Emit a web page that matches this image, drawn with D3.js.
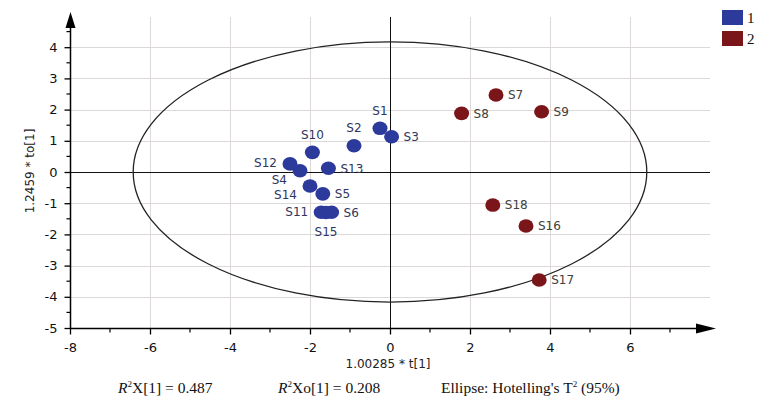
<!DOCTYPE html>
<html>
<head>
<meta charset="utf-8">
<script src="https://cdn.jsdelivr.net/npm/d3@7"></script>
<style>
  html, body { margin: 0; padding: 0; background: #fff; }
  svg { display: block; }
</style>
</head>
<body>
<svg id="chart" width="758" height="401"></svg>
<script>
// ---- data ----
const sampleNames = ["S1","S2","S3","S4","S5","S6","S7","S8","S9","S10","S11","S12","S13","S14","S15","S16","S17","S18"];
const tValues  = [-0.25, -0.90, 0.04, -2.25, -1.68, -1.46, 2.65, 1.79, 3.79, -1.94, -1.72, -2.50, -1.54, -2.00, -1.60, 3.40, 3.73, 2.57];
const toValues = [ 1.40,  0.84, 1.13,  0.04, -0.70, -1.29, 2.47, 1.88, 1.93,  0.63, -1.29,  0.26,  0.12, -0.45, -1.30, -1.73, -3.46, -1.06];
const groups   = [1,1,1,1,1,1,2,2,2,1,1,1,1,1,1,2,2,2];
const labelSide = ["above","above","right","leftlow","right","right","right","right","right","above","left","left","right","leftlow","below","right","right","right"];
const xTicks = [-8,-6,-4,-2,0,2,4,6];
const xMinorTicks = [-7,-5,-3,-1,1,3,5,7];
const yTicks = [-5,-4,-3,-2,-1,0,1,2,3,4];
const yMinorTicks = [-4.5,-3.5,-2.5,-1.5,-0.5,0.5,1.5,2.5,3.5,4.5];
const ellipseRadii = [6.42, 4.17]; // Hotelling's T2 95% semi-axes (t, to)
const legendGroups = ["1","2"];
const xTitle = "1.00285 * t[1]";
const yTitle = "1.2459 * to[1]";

// ---- chart ----
const svg = d3.select("#chart");
const x = d3.scaleLinear().domain([-8, 8]).range([70, 710]);
const y = d3.scaleLinear().domain([-5, 5]).range([328, 16]);
const fill = d3.scaleOrdinal().domain([1,2]).range(["#2c3a9c", "#7a1519"]);
const labelColor = d3.scaleOrdinal().domain([1,2]).range(["#2f355e", "#404040"]);

const plotTop = 17, plotRight = 710;

// grid
const grid = svg.append("g").attr("stroke", "#ddd8d8").attr("stroke-width", 1);
grid.selectAll("line.v").data(xTicks.filter(d => d !== -8 && d !== 0)).join("line")
  .attr("x1", d => x(d) + 0.5).attr("x2", d => x(d) + 0.5)
  .attr("y1", plotTop).attr("y2", y(-5));
grid.selectAll("line.h").data(yTicks.filter(d => d !== -5 && d !== 0)).join("line")
  .attr("x1", x(-8)).attr("x2", plotRight)
  .attr("y1", d => Math.round(y(d)) + 0.5).attr("y2", d => Math.round(y(d)) + 0.5);

// zero lines
svg.append("line").attr("x1", x(-8)).attr("x2", plotRight)
  .attr("y1", Math.round(y(0)) + 0.5).attr("y2", Math.round(y(0)) + 0.5)
  .attr("stroke", "#111").attr("stroke-width", 1);
svg.append("line").attr("x1", x(0) + 0.5).attr("x2", x(0) + 0.5)
  .attr("y1", plotTop).attr("y2", y(-5))
  .attr("stroke", "#111").attr("stroke-width", 1);

// ellipse
svg.append("ellipse")
  .attr("cx", x(0)).attr("cy", y(0))
  .attr("rx", x(ellipseRadii[0]) - x(0))
  .attr("ry", y(0) - y(ellipseRadii[1]))
  .attr("fill", "none").attr("stroke", "#222").attr("stroke-width", 1.3);

// x axis
const xAxisG = svg.append("g").attr("transform", `translate(0,${Math.round(y(-5)) + 0.5})`);
xAxisG.call(d3.axisBottom(x).tickValues(xTicks).tickSize(6).tickFormat(d => d < 0 ? "-" + Math.abs(d) : d))
  .call(g => g.select(".domain").remove());
xAxisG.append("line").attr("x1", x(-8)).attr("x2", 706).attr("stroke", "#000").attr("stroke-width", 1.5);
xAxisG.append("path").attr("d", "M696,-5 L716,0 L696,5 Z").attr("fill", "#000");
xAxisG.selectAll(".tick line").attr("stroke", "#000").attr("stroke-width", 1.3);
xAxisG.selectAll(".tick text").attr("font-family", "DejaVu Sans, sans-serif").attr("font-size", 13)
  .attr("fill", "#111").attr("dy", "0.71em").attr("y", 14);
xAxisG.selectAll("line.minor").data(xMinorTicks).join("line").attr("class", "minor")
  .attr("x1", d => x(d)).attr("x2", d => x(d)).attr("y1", 0).attr("y2", 4)
  .attr("stroke", "#000").attr("stroke-width", 1.2);

// y axis
const yAxisG = svg.append("g").attr("transform", `translate(${x(-8) + 0.5},0)`);
yAxisG.call(d3.axisLeft(y).tickValues(yTicks).tickSize(6).tickFormat(d => d < 0 ? "-" + Math.abs(d) : d))
  .call(g => g.select(".domain").remove());
yAxisG.append("line").attr("y1", y(-5)).attr("y2", 26).attr("stroke", "#000").attr("stroke-width", 1.5);
yAxisG.append("path").attr("d", "M-5,28 L0,12 L5,28 Z").attr("fill", "#000");
yAxisG.selectAll(".tick line").attr("stroke", "#000").attr("stroke-width", 1.3);
yAxisG.selectAll(".tick text").attr("font-family", "DejaVu Sans, sans-serif").attr("font-size", 13)
  .attr("fill", "#111").attr("x", -13);
yAxisG.selectAll("line.minor").data(yMinorTicks).join("line").attr("class", "minor")
  .attr("x1", -4).attr("x2", 0).attr("y1", d => y(d)).attr("y2", d => y(d))
  .attr("stroke", "#000").attr("stroke-width", 1.2);

// axis titles
svg.append("text").attr("x", 388).attr("y", 368).attr("text-anchor", "middle")
  .attr("font-family", "DejaVu Sans, sans-serif").attr("font-size", 12).attr("fill", "#222")
  .text(xTitle);
svg.append("text").attr("transform", `translate(34,171) rotate(-90)`).attr("text-anchor", "middle")
  .attr("font-family", "DejaVu Sans, sans-serif").attr("font-size", 12).attr("fill", "#222")
  .text(yTitle);

// points
const data = sampleNames.map((n, i) => ({ name: n, t: tValues[i], to: toValues[i], g: groups[i], side: labelSide[i] }));
svg.append("g").selectAll("ellipse").data(data).join("ellipse")
  .attr("cx", d => x(d.t)).attr("cy", d => y(d.to))
  .attr("rx", 7.5).attr("ry", 6.8)
  .attr("fill", d => fill(d.g));

// labels
const off = {
  above:   { dx: 0,   dy: -18, anchor: "middle" },
  below:   { dx: 0,   dy: 19,  anchor: "middle" },
  right:   { dx: 12,  dy: 0,   anchor: "start" },
  left:    { dx: -13, dy: -1,  anchor: "end" },
  leftlow: { dx: -13, dy: 9,   anchor: "end" }
};
svg.append("g").selectAll("text").data(data).join("text")
  .attr("x", d => x(d.t) + off[d.side].dx)
  .attr("y", d => y(d.to) + off[d.side].dy)
  .attr("dy", "0.36em")
  .attr("text-anchor", d => off[d.side].anchor)
  .attr("font-family", "DejaVu Sans, sans-serif").attr("font-size", 12)
  .attr("fill", d => labelColor(d.g))
  .text(d => d.name);

// legend
const leg = svg.append("g").selectAll("g").data(legendGroups).join("g")
  .attr("transform", (d, i) => `translate(722,${10 + i * 21})`);
leg.append("rect").attr("width", 21).attr("height", 15).attr("fill", (d, i) => fill(i + 1));
leg.append("text").attr("x", 25).attr("y", 8).attr("dy", "0.36em")
  .attr("font-family", "Liberation Serif, serif").attr("font-size", 15).attr("fill", "#111")
  .text(d => d);

// footer
const foot = svg.append("g").attr("font-family", "Liberation Serif, serif").attr("font-size", 15.5).attr("fill", "#111");
const f1 = foot.append("text").attr("x", 118).attr("y", 393);
f1.append("tspan").attr("font-style", "italic").text("R");
f1.append("tspan").attr("font-size", 9).attr("dy", -6).text("2");
f1.append("tspan").attr("dy", 6).text("X[1] = 0.487");
const f2 = foot.append("text").attr("x", 278).attr("y", 393);
f2.append("tspan").attr("font-style", "italic").text("R");
f2.append("tspan").attr("font-size", 9).attr("dy", -6).text("2");
f2.append("tspan").attr("dy", 6).text("Xo[1] = 0.208");
const f3 = foot.append("text").attr("x", 441).attr("y", 393);
f3.append("tspan").text("Ellipse: Hotelling's  T");
f3.append("tspan").attr("font-size", 9).attr("dy", -6).text("2");
f3.append("tspan").attr("dy", 6).text(" (95%)");
</script>
</body>
</html>
